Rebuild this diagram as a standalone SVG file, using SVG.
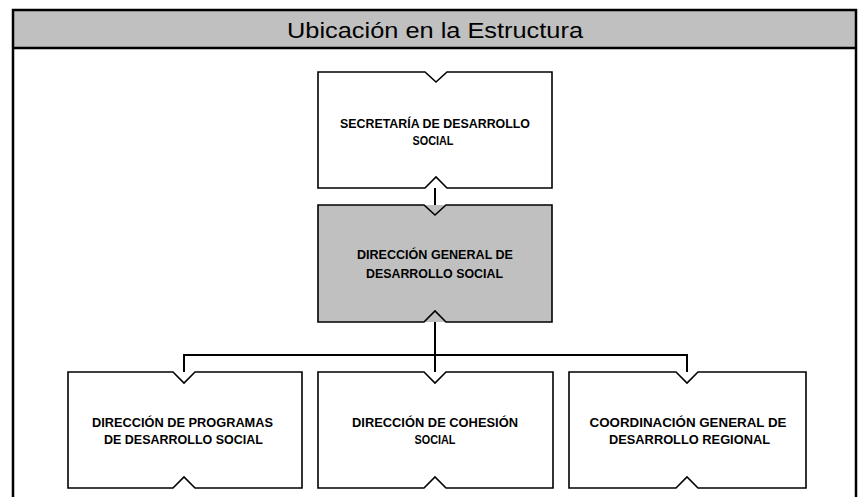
<svg xmlns="http://www.w3.org/2000/svg" width="861" height="497" viewBox="0 0 861 497">
<style>
.frame{fill:none;stroke:#000;stroke-width:2.5}
.box{stroke:#000;stroke-width:1.6;fill:none;stroke-linejoin:miter}
.wf{fill:#fff}
.gf{fill:#c0c0c0}
.conn{stroke:#000;stroke-width:2;fill:none}
.lbl{font-family:"Liberation Sans",Arial,sans-serif;font-weight:bold;font-size:13px;fill:#000;text-anchor:middle}
.title{font-family:"Liberation Sans",Arial,sans-serif;font-size:22px;fill:#000;text-anchor:middle}
</style>
<rect x="0" y="0" width="861" height="497" fill="#fff"/>
<g id="header">
<rect x="13" y="10" width="843" height="38" fill="#c0c0c0"/>
<path class="frame" d="M13 497 V10 H856 V497 M13 48 H856"/>
<text class="title" x="435" y="38" textLength="296" lengthAdjust="spacingAndGlyphs">Ubicación en la Estructura</text>
</g>
<g id="connectors">
<path class="conn" d="M435 177 V215"/>
<path class="conn" d="M435 312 V382"/>
<path class="conn" d="M184 372 V355 H687 V372"/>
</g>
<g id="n-secretaria">
<rect class="wf" x="318" y="72" width="234" height="116"/>
<path class="box" d="M318 72 H425 L436 82 L447 72 H552 V188 H447 L436 177 L425 188 H318 Z"/>
<text class="lbl" x="435" y="128" textLength="190" lengthAdjust="spacingAndGlyphs">SECRETARÍA DE DESARROLLO</text>
<text class="lbl" x="433" y="145" textLength="41" lengthAdjust="spacingAndGlyphs">SOCIAL</text>
</g>
<g id="n-direccion-general">
<rect class="gf" x="318" y="205" width="234" height="117"/>
<path class="box" d="M318 205 H424 L435 215 L446 205 H552 V322 H446 L435 311 L424 322 H318 Z"/>
<text class="lbl" x="435" y="259" textLength="156" lengthAdjust="spacingAndGlyphs">DIRECCIÓN GENERAL DE</text>
<text class="lbl" x="434.5" y="278" textLength="137" lengthAdjust="spacingAndGlyphs">DESARROLLO SOCIAL</text>
</g>
<g id="n-programas">
<rect class="wf" x="68" y="372" width="234" height="116"/>
<path class="box" d="M68 372 H173 L184 383 L195 372 H302 V488 H195 L184 477 L173 488 H68 Z"/>
<text class="lbl" x="182.5" y="427" textLength="181" lengthAdjust="spacingAndGlyphs">DIRECCIÓN DE PROGRAMAS</text>
<text class="lbl" x="183.5" y="444" textLength="159" lengthAdjust="spacingAndGlyphs">DE DESARROLLO SOCIAL</text>
</g>
<g id="n-cohesion">
<rect class="wf" x="318" y="372" width="235" height="116"/>
<path class="box" d="M318 372 H424 L435 383 L446 372 H553 V488 H446 L435 477 L424 488 H318 Z"/>
<text class="lbl" x="435" y="427" textLength="166" lengthAdjust="spacingAndGlyphs">DIRECCIÓN DE COHESIÓN</text>
<text class="lbl" x="435" y="444" textLength="41" lengthAdjust="spacingAndGlyphs">SOCIAL</text>
</g>
<g id="n-coordinacion">
<rect class="wf" x="569" y="372" width="237" height="116"/>
<path class="box" d="M569 372 H676 L687 383 L698 372 H806 V488 H698 L687 477 L676 488 H569 Z"/>
<text class="lbl" x="688" y="427" textLength="197" lengthAdjust="spacingAndGlyphs">COORDINACIÓN GENERAL DE</text>
<text class="lbl" x="689.5" y="444" textLength="161" lengthAdjust="spacingAndGlyphs">DESARROLLO REGIONAL</text>
</g>
</svg>
